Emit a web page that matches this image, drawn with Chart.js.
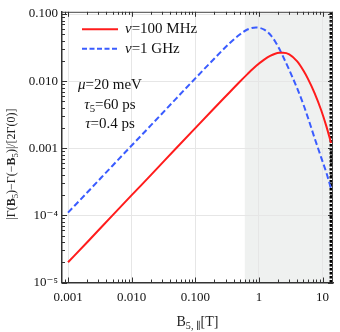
<!DOCTYPE html>
<html>
<head>
<meta charset="utf-8">
<script src="https://cdn.jsdelivr.net/npm/chart.js@4"></script>
<style>
  html, body { margin: 0; padding: 0; background: #fff; }
</style>
</head>
<body>
<canvas id="chart" width="340" height="332"></canvas>
<script>
// values
const bField = [0.001, 0.002, 0.005, 0.01, 0.02, 0.05, 0.1, 0.2, 0.35, 0.5, 0.66, 0.9, 1.21, 1.5, 1.8, 2.1, 2.4, 3.0, 4.0, 5.0, 5.85, 7.5, 9.5, 11.5, 13.6];
const rate100MHz = [2.0e-5, 3.98e-5, 1.0e-4, 2.0e-4, 3.98e-4, 1.0e-3, 2.0e-3, 3.98e-3, 6.9e-3, 9.8e-3, 0.01274, 0.0168, 0.0209, 0.0238, 0.0256, 0.0264, 0.0265, 0.0251, 0.0197, 0.0144, 0.0110, 0.00665, 0.00372, 0.00212, 0.0012];
const rate1GHz = [1.1e-4, 2.19e-4, 5.5e-4, 1.1e-3, 2.19e-3, 5.5e-3, 0.011, 0.0218, 0.0371, 0.0495, 0.0588, 0.0630, 0.0585, 0.0495, 0.0391, 0.0301, 0.0232, 0.01466, 0.00778, 0.0045, 0.00292, 0.00142, 7.33e-4, 4.3e-4, 2.51e-4];

const cutoffB = 13.6;
const shadeFromB = 0.6;
const xRange = [0.000804, 14.6];
const yRange = [1e-5, 0.108];

const xTickValues = [0.001, 0.01, 0.1, 1, 10];
const xTickLabels = ['0.001', '0.010', '0.100', '1', '10'];
const yTickValues = [1e-5, 1e-4, 0.001, 0.01, 0.1];
const yTickLabels = ['10⁻⁵', '10⁻⁴', '0.001', '0.010', '0.100'];

const RED = '#ff1c1c';
const BLUE = '#3a5cff';
const SERIF = '"Liberation Serif", "DejaVu Serif", serif';

function labelFor(values, labels, v) {
    for (let i = 0; i < values.length; i++) {
        if (Math.abs(Math.log10(v) - Math.log10(values[i])) < 1e-6) return labels[i];
    }
    return '';
}

function isDecade(v) {
    const l = Math.log10(v);
    return Math.abs(l - Math.round(l)) < 1e-6;
}

function isNice(v) {
    const m = v / Math.pow(10, Math.floor(Math.log10(v) + 1e-9));
    return Math.abs(m - Math.round(m)) < 1e-6;
}

// draws text made of parts {t, style, sub}
function drawRich(ctx, parts, x, y, size, align) {
    const fontOf = p => (p.style ? p.style + ' ' : '') + (p.sub ? size * 0.72 : size) + 'px ' + SERIF;
    let w = 0;
    parts.forEach(p => { ctx.font = fontOf(p); w += ctx.measureText(p.t).width; });
    let cx = align === 'center' ? x - w / 2 : x;
    ctx.textAlign = 'left';
    ctx.textBaseline = 'middle';
    parts.forEach(p => {
        ctx.font = fontOf(p);
        ctx.fillText(p.t, cx, p.sub ? y + size * 0.28 : y);
        cx += ctx.measureText(p.t).width;
    });
}

const decorations = {
    id: 'decorations',
    beforeDraw(chart) {
        // shaded band
        const {ctx, chartArea} = chart;
        const xs = chart.scales.x;
        const x0 = xs.getPixelForValue(shadeFromB);
        const x1 = xs.getPixelForValue(cutoffB);
        ctx.save();
        ctx.fillStyle = '#eff1f0';
        ctx.fillRect(x0, chartArea.top, x1 - x0, chartArea.bottom - chartArea.top);
        ctx.restore();
    },
    afterDraw(chart) {
        const {ctx, chartArea} = chart;
        const xs = chart.scales.x, ys = chart.scales.y;
        ctx.save();
        // top and right frame
        ctx.strokeStyle = '#444';
        ctx.lineWidth = 1;
        ctx.beginPath();
        ctx.moveTo(chartArea.left, chartArea.top + 0.5);
        ctx.lineTo(chartArea.right, chartArea.top + 0.5);
        ctx.moveTo(chartArea.right - 0.5, chartArea.top);
        ctx.lineTo(chartArea.right - 0.5, chartArea.bottom);
        ctx.stroke();

        // inward ticks on all four sides
        ctx.strokeStyle = '#333';
        ctx.beginPath();
        xs.ticks.forEach(t => {
            if (!isNice(t.value)) return;
            const px = Math.round(xs.getPixelForValue(t.value)) + 0.5;
            const len = isDecade(t.value) ? 5 : 3;
            ctx.moveTo(px, chartArea.bottom); ctx.lineTo(px, chartArea.bottom - len);
            ctx.moveTo(px, chartArea.top); ctx.lineTo(px, chartArea.top + len);
        });
        ys.ticks.forEach(t => {
            if (!isNice(t.value)) return;
            const py = Math.round(ys.getPixelForValue(t.value)) + 0.5;
            const len = isDecade(t.value) ? 5 : 3;
            ctx.moveTo(chartArea.left, py); ctx.lineTo(chartArea.left + len, py);
            ctx.moveTo(chartArea.right, py); ctx.lineTo(chartArea.right - len, py);
        });
        ctx.stroke();

        // legend
        const lx = chartArea.left + 20;
        const rows = [
            {color: RED, dash: [], parts: [{t: 'ν', style: 'italic'}, {t: '=100 MHz'}]},
            {color: BLUE, dash: [5, 2.5], parts: [{t: 'ν', style: 'italic'}, {t: '=1 GHz'}]}
        ];
        rows.forEach((r, i) => {
            const ly = chartArea.top + 17.5 + i * 19.5;
            ctx.strokeStyle = r.color;
            ctx.lineWidth = 2;
            ctx.setLineDash(r.dash);
            ctx.beginPath();
            ctx.moveTo(lx, ly); ctx.lineTo(lx + 36, ly);
            ctx.stroke();
            ctx.setLineDash([]);
            ctx.fillStyle = '#111';
            drawRich(ctx, r.parts, lx + 43, ly, 15, 'left');
        });

        // parameter notes
        const nx = chartArea.left + 48;
        ctx.fillStyle = '#111';
        drawRich(ctx, [{t: 'μ', style: 'italic'}, {t: '=20 meV'}], nx, chartArea.top + 73.5, 15, 'center');
        drawRich(ctx, [{t: 'τ', style: 'italic'}, {t: '5', sub: true}, {t: '=60 ps'}], nx, chartArea.top + 93, 15, 'center');
        drawRich(ctx, [{t: 'τ', style: 'italic'}, {t: '=0.4 ps'}], nx, chartArea.top + 112.5, 15, 'center');

        // axis titles
        ctx.fillStyle = '#222';
        drawRich(ctx, [{t: 'B'}, {t: '5, ∥', sub: true}, {t: '[T]'}], (chartArea.left + chartArea.right) / 2, 322, 14, 'center');
        ctx.translate(12, 164);
        ctx.rotate(-Math.PI / 2);
        drawRich(ctx, [
            {t: '|Γ('}, {t: 'B', style: 'bold'}, {t: '5', sub: true}, {t: ')−Γ(−'},
            {t: 'B', style: 'bold'}, {t: '5', sub: true}, {t: ')|/[2Γ(0)]'}
        ], 0, 0, 12, 'center');
        ctx.restore();
    }
};

const ctx = document.getElementById('chart').getContext('2d');
new Chart(ctx, {
    type: 'line',
    data: {
        datasets: [
            {
                label: 'ν=100 MHz',
                data: bField.map((b, i) => ({x: b, y: rate100MHz[i]})),
                borderColor: RED,
                borderWidth: 2,
                pointRadius: 0,
                cubicInterpolationMode: 'monotone'
            },
            {
                label: 'ν=1 GHz',
                data: bField.map((b, i) => ({x: b, y: rate1GHz[i]})),
                borderColor: BLUE,
                borderWidth: 2,
                borderDash: [6, 3],
                pointRadius: 0,
                cubicInterpolationMode: 'monotone'
            },
            {
                label: 'cutoff',
                data: [{x: cutoffB, y: yRange[0]}, {x: cutoffB, y: yRange[1]}],
                borderColor: '#000',
                borderWidth: 3,
                borderDash: [2.5, 1.5],
                pointRadius: 0
            }
        ]
    },
    options: {
        responsive: false,
        animation: false,
        devicePixelRatio: 1,
        layout: { padding: { top: 9, right: 7, left: 0, bottom: 0 } },
        plugins: {
            legend: { display: false },
            tooltip: { enabled: false }
        },
        scales: {
            x: {
                type: 'logarithmic',
                min: xRange[0],
                max: xRange[1],
                afterFit: s => { s.height = 49.5; },
                grid: {
                    drawTicks: false,
                    color: c => (c.tick && isDecade(c.tick.value)) ? '#e6e6e6' : 'rgba(0,0,0,0)'
                },
                border: { color: '#333', width: 1.5 },
                ticks: {
                    autoSkip: false,
                    maxRotation: 0,
                    padding: 7,
                    color: '#111',
                    font: { family: SERIF, size: 13 },
                    callback: v => labelFor(xTickValues, xTickLabels, v)
                }
            },
            y: {
                type: 'logarithmic',
                min: yRange[0],
                max: yRange[1],
                afterFit: s => { s.width = 62; },
                grid: {
                    drawTicks: false,
                    color: c => (c.tick && isDecade(c.tick.value)) ? '#e6e6e6' : 'rgba(0,0,0,0)'
                },
                border: { color: '#333', width: 1.5 },
                ticks: {
                    autoSkip: false,
                    padding: 4,
                    color: '#111',
                    font: { family: SERIF, size: 13 },
                    callback: v => labelFor(yTickValues, yTickLabels, v)
                }
            }
        }
    },
    plugins: [decorations]
});
</script>
</body>
</html>
